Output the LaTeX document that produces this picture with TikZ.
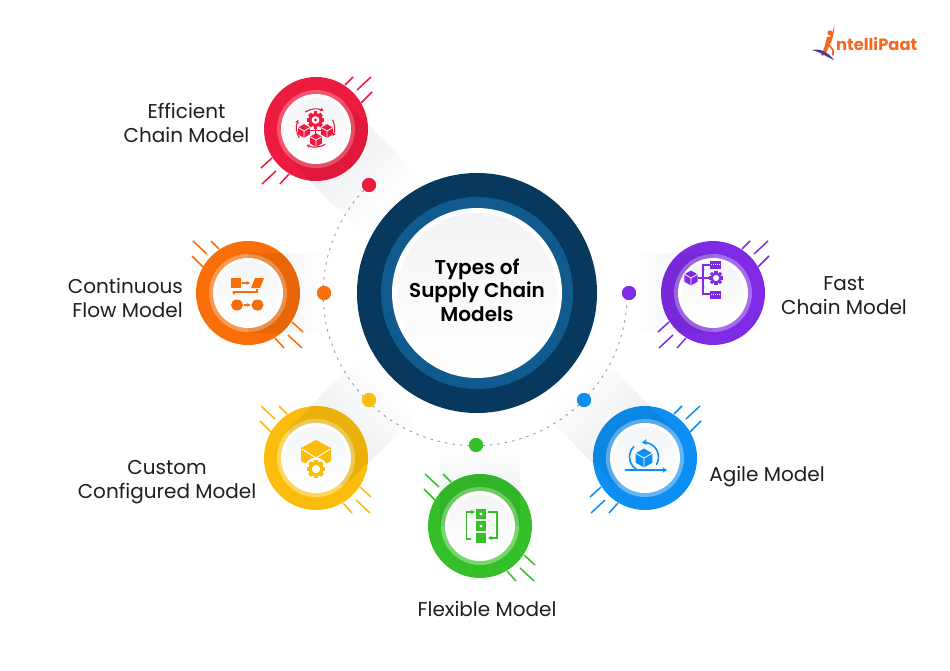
\documentclass[tikz,border=0pt]{standalone}
\usepackage{fontspec}
\setmainfont{Poppins}
\newfontfamily\popsemi{Poppins SemiBold}
\newfontfamily\popbold{Poppins}[UprightFont=* Bold]
\usetikzlibrary{arrows.meta}
\definecolor{cRed}{HTML}{EE1B40}\definecolor{lRed}{HTML}{F9536E}
\definecolor{cOrange}{HTML}{F96E08}\definecolor{lOrange}{HTML}{FB9A50}
\definecolor{cYellow}{HTML}{FBBC0B}\definecolor{lYellow}{HTML}{FCD75E}
\definecolor{cGreen}{HTML}{35C02A}\definecolor{lGreen}{HTML}{76D76B}
\definecolor{cBlue}{HTML}{0C8FF1}\definecolor{lBlue}{HTML}{62B6F7}
\definecolor{cPurple}{HTML}{7F2BE6}\definecolor{lPurple}{HTML}{A66CEE}
\definecolor{navy}{HTML}{07395F}\definecolor{midblue}{HTML}{105A8E}
\definecolor{band}{HTML}{E9EBEE}
\definecolor{logoOrange}{HTML}{F4691F}
\definecolor{logoPurple}{HTML}{4A3A9C}
\tikzset{
  x=1pt,y=-1pt,
  label text/.style={font=\fontsize{20}{24}\selectfont,align=center,text=black!88,inner sep=0pt},
  dot/.style={circle,minimum size=14pt,inner sep=0pt},
  hatchline/.style={line width=1.5pt},
  icon/.style={line width=1.3pt,line cap=round},
  smallhead/.style={-{Stealth[length=3.5pt,width=4pt]}},
}
\newcommand{\satshadow}[4]{%
  \begin{scope}[shift={(#1,#2)},rotate=#3]
    \foreach \i in {20,19,...,1}{
      \pgfmathsetmacro{\pct}{100-(\i-1)*5}
      \pgfmathsetmacro{\len}{#4*\i/20}
      \fill[band!\pct!white] (0,-40) rectangle (\len,40);
    }
  \end{scope}}
\newcommand{\satdisc}[7]{%
  \satshadow{#1}{#2}{#3}{#4}
  \begin{scope}[shift={(#1,#2)}]
    \begin{scope}[xscale=#7,#5,hatchline]
      \draw (29,-44)--(37,-52); \draw (41,-39)--(55,-52); \draw (45,-26)--(56,-37);
      \draw (-55,39)--(-44,29); \draw (-54,55)--(-40,42); \draw (-36,55)--(-27,45);
    \end{scope}
    \fill[#5] (0,0) circle[radius=52];
    \fill[#6] (0,0) circle[radius=39];
    \begin{scope}
      \clip (0,0) circle[radius=52];
      \begin{scope}[rotate=#3]
        \fill[black,opacity=.06] (0,-40) rectangle (70,40);
      \end{scope}
    \end{scope}
    \fill[white] (0,0) circle[radius=35];
    \shade[top color=band!50!white,bottom color=white] (0,0) circle[radius=31.5];
  \end{scope}}
\newcommand{\cubeicon}[4]{%
  \begin{scope}[shift={(#1,#2)}]
    \fill[#4] (0,-#3) -- ({.87*#3},{-.5*#3}) -- ({.87*#3},{.5*#3}) -- (0,#3) -- ({-.87*#3},{.5*#3}) -- ({-.87*#3},{-.5*#3}) -- cycle;
    \draw[white,line width=.8pt] ({-.87*#3},{-.5*#3}) -- (0,0) -- ({.87*#3},{-.5*#3}) (0,0) -- (0,#3);
  \end{scope}}
\newcommand{\gearicon}[4]{%
  \begin{scope}[shift={(#1,#2)}]
    \foreach \a in {0,45,...,315}{
      \fill[#4,rotate=\a] ({-.28*#3},{-#3-1.6}) rectangle ({.28*#3},0);
    }
    \fill[#4] (0,0) circle[radius=#3];
    \fill[white] (0,0) circle[radius={.55*#3}];
  \end{scope}}
\begin{document}
\begin{tikzpicture}
\useasboundingbox (0,0) rectangle (950,671);
\fill[white] (0,0) rectangle (950,671);

\satdisc{316}{129}{-45.6}{105}{cRed}{lRed}{1}
\satdisc{248}{293}{0}{75}{cOrange}{lOrange}{-1}
\satdisc{316}{458}{45}{105}{cYellow}{lYellow}{-1}
\satdisc{480}{526}{90}{82}{cGreen}{lGreen}{-1}
\satdisc{645}{458}{135}{105}{cBlue}{lBlue}{1}
\satdisc{713}{293}{180}{75}{cPurple}{lPurple}{1}

% central circle
\node[circle,fill=navy,minimum size=240pt,inner sep=0pt] (hub) at (477,293) {};
\fill[midblue] (hub.center) circle[radius=96];
\fill[white] (hub.center) circle[radius=85];
\shade[top color=band!55!white,bottom color=white] (hub.center) circle[radius=80];

% dots and dashed arc
\node[dot,fill=cRed] (dotR) at (369,185) {};
\node[dot,fill=cOrange] (dotO) at (324,293) {};
\node[dot,fill=cYellow] (dotY) at (369,400) {};
\node[dot,fill=cGreen] (dotG) at (476,445) {};
\node[dot,fill=cBlue] (dotB) at (584,400) {};
\node[dot,fill=cPurple] (dotP) at (629,293) {};
\draw[black!40,line width=.9pt,dash pattern=on 2.5pt off 5pt] (dotR.center) ++(-5,5) arc[start angle=223,end angle=2,radius=152];
\foreach \n/\c in {dotR/cRed,dotO/cOrange,dotY/cYellow,dotG/cGreen,dotB/cBlue,dotP/cPurple}{
  \fill[\c] (\n.center) circle[radius=7];
}

% texts
\node[inner sep=0pt,align=center,font=\popsemi\fontsize{20}{23.7}\selectfont,text=black] (title) at (477,290) {Types of\\Supply Chain\\Models};
\node[label text] (t1) at (186.5,123) {Efficient\\Chain Model};
\node[label text,align=right,anchor=east] (t2) at (183,298) {Continuous\\Flow Model};
\node[label text] (t3) at (167,482) {Custom\\Configured Model};
\node[label text] (t4) at (487,609) {Flexible Model};
\node[label text] (t5) at (767,477) {Agile Model};
\node[label text] (t6) at (844,296) {Fast\\Chain Model};

% red icon
\gearicon{315.5}{120}{7}{cRed}
\fill[cRed] (315.5,120) circle[radius=1.6];
\draw[cRed,line width=1pt] (309,131)--(322,131) (315.5,126)--(315.5,135);
\cubeicon{304}{131}{6.8}{cRed}
\cubeicon{327}{131}{6.8}{cRed}
\cubeicon{316}{140}{6.8}{cRed}
\foreach \s/\e in {238/295,335/385,60/118,150/205}{
  \draw[cRed,icon,line width=1.1pt,smallhead] (315.5,128) ++(\s:19) arc[start angle=\s,end angle=\e,radius=19];
}

% orange icon
\fill[cOrange] (231,278) rectangle (241,288);
\draw[cOrange,icon,smallhead] (242,283)--(250,283);
\fill[cOrange] (255,278)--(264,278)--(260,288)--(251,288)--cycle;
\draw[cOrange,line width=1.1pt] (257,289)--(257,292)--(236,292);
\draw[cOrange,icon,smallhead] (237,292)--(234,292)--(234,295);
\fill[cOrange] (237,305) ellipse[x radius=6,y radius=5.5];
\fill[cOrange] (257.5,305) ellipse[x radius=6,y radius=5.5];
\draw[cOrange,icon,smallhead] (244,305)--(250.5,305);

% yellow icon
\fill[cYellow] (316,440)--(331,448)--(331,461)--(316,469)--(301,461)--(301,448)--cycle;
\draw[white,line width=.9pt] (302,449)--(316,458)--(330,449);
\fill[white] (316,469) circle[radius=11.5];
\gearicon{316}{469}{7.5}{cYellow}

% green icon
\foreach \yy in {509,521}{
  \fill[cGreen] (476,\yy) rectangle (486,{\yy+10});
  \fill[white] (481,{\yy+5}) circle[radius=1.6];
}
\fill[cGreen] (476,532.5) rectangle (486,542.5);
\draw[cGreen,line width=1.6pt,-{Stealth[length=4pt,width=4.5pt]}] (471,539)--(466.5,539)--(466.5,512)--(475,512);
\draw[cGreen,line width=1.6pt,-{Stealth[length=4pt,width=4.5pt]}] (488,512)--(497,512)--(497,538)--(488,538);

% blue icon
\cubeicon{644}{458}{9.5}{cBlue}
\draw[cBlue,icon,line width=1.6pt,-{Stealth[length=4.5pt,width=5.5pt]}] (625.5,470)--(667,470);
\draw[cBlue,icon,line width=1.6pt] (644,457) ++(120:14.5) arc[start angle=120,end angle=225,radius=14.5];
\draw[cBlue,icon,line width=1.6pt,-{Stealth[length=5pt,width=6pt]}] (644,457) ++(30:14.5) arc[start angle=30,end angle=-98,radius=14.5];

% purple icon
\cubeicon{691}{278}{7.5}{cPurple}
\draw[cPurple,line width=1.1pt] (710,265)--(703,265)--(703,294)--(710,294) (698,278)--(709,278);
\foreach \yy in {270,278,287}{\fill[cPurple] (703,\yy) circle[radius=1.5];}
\gearicon{716}{278}{5.5}{cPurple}
\foreach \yy in {261,291}{
  \fill[cPurple] (710,\yy) rectangle (721,{\yy+8});
  \draw[white,line width=.7pt,dash pattern=on 1pt off 1pt] (711,{\yy+3})--(720,{\yy+3});
}

% logo
\node[anchor=west,inner sep=0pt,font=\popbold\fontsize{16.3}{20}\selectfont,text=logoOrange] (logo) at (836,44.5) {ntelliPaat};
\fill[logoOrange] (830,33) circle[radius=2.6];
\fill[logoOrange] (834.5,25) .. controls (834,33) and (833,40) .. (829,46) .. controls (828,50) and (826,53) .. (823,56) -- (821,55) .. controls (824,50) and (826,42) .. (827,37) -- (830,37) .. controls (832,34) and (833,30) .. (834.5,25) -- cycle;
\draw[logoOrange,line width=1.6pt,line cap=round] (828,44)--(833,50)--(833,55);
\fill[logoPurple] (812,50) .. controls (820,48) and (828,52) .. (834,60) .. controls (827,57) and (820,52) .. (812,50) -- cycle;
\end{tikzpicture}
\end{document}
